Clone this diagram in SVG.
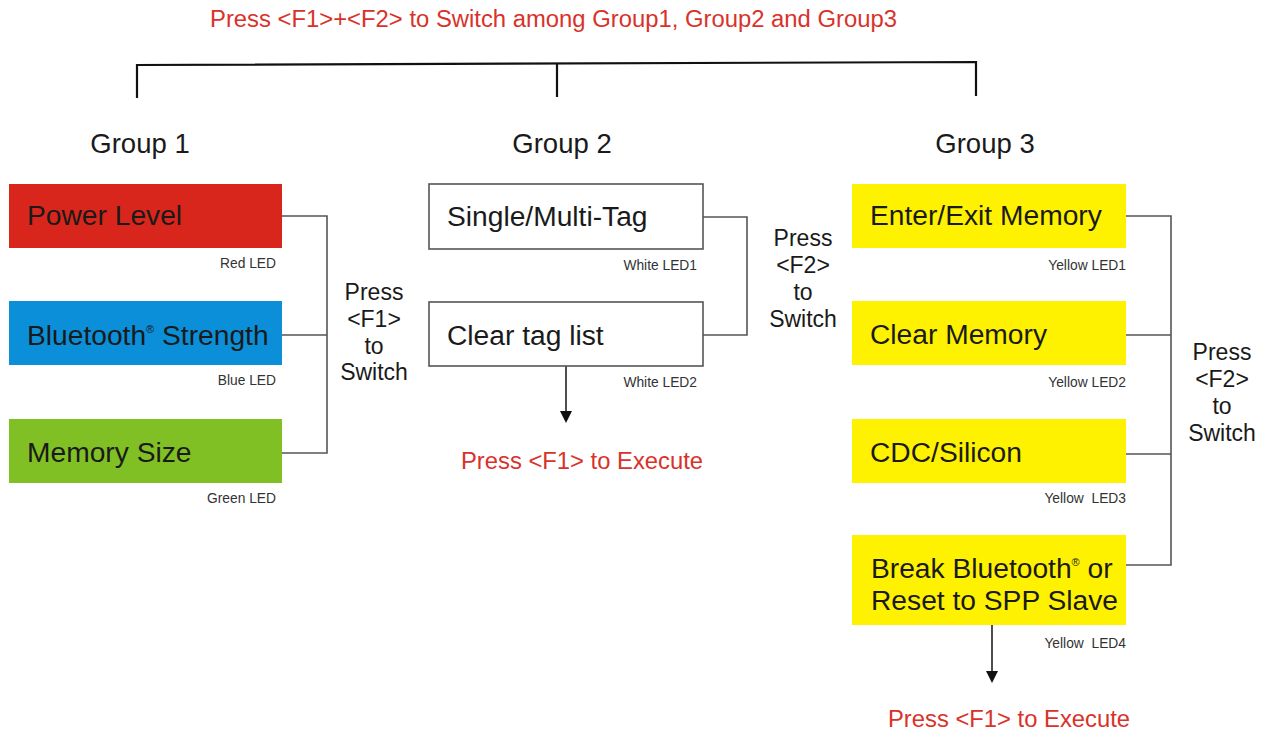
<svg xmlns="http://www.w3.org/2000/svg" width="1270" height="735" viewBox="0 0 1270 735">
<defs>
<style>
text{font-family:"Liberation Sans",Arial,sans-serif;fill:#1a1a1a}
.top{font-size:23.5px;fill:#d9322a}
.grp{font-size:27.5px}
.box{font-size:28.2px}
.led{font-size:13.8px;fill:#333;text-anchor:end;white-space:pre}
.sw{font-size:23px;text-anchor:middle}
.exe{font-size:23.8px;fill:#d9322a}
.conn{fill:none;stroke:#555;stroke-width:1.6}
.br{fill:none;stroke:#111;stroke-width:2.2}
.arr{fill:none;stroke:#222;stroke-width:1.6}
.wbox{fill:#fff;stroke:#555;stroke-width:1.6}
.ah{fill:#111}
</style>
</defs>
<rect width="1270" height="735" fill="#fff"/>

<text class="top" x="210" y="27" textLength="687" lengthAdjust="spacingAndGlyphs">Press &lt;F1&gt;+&lt;F2&gt; to Switch among Group1, Group2 and Group3</text>

<g id="connectors">
<path class="br" d="M137,98 V65 L976,62 V96"/>
<path class="br" d="M557,64 V97"/>
<path class="conn" d="M282,216 H327 V453 H282 M282,335 H327"/>
<path class="conn" d="M703,217 H747 V335 H703"/>
<path class="conn" d="M1126,216 H1171 V565 H1126 M1126,335 H1171 M1126,454 H1171"/>
<path class="arr" d="M566,366 V414"/>
<path class="ah" d="M560,411 L572,411 L566,423 Z"/>
<path class="arr" d="M992,625 V674"/>
<path class="ah" d="M986,671 L998,671 L992,683 Z"/>
</g>

<g id="group1-label"><text class="grp" x="140" y="153" text-anchor="middle">Group 1</text></g>
<g id="group2-label"><text class="grp" x="562" y="153" text-anchor="middle">Group 2</text></g>
<g id="group3-label"><text class="grp" x="985" y="153" text-anchor="middle">Group 3</text></g>

<g id="power-level">
<rect x="9" y="184" width="273" height="64" fill="#d9261c"/>
<text class="box" x="27" y="225">Power Level</text>
<text class="led" x="276" y="268">Red LED</text>
</g>
<g id="bluetooth-strength">
<rect x="9" y="301" width="273" height="64" fill="#0a8fd8"/>
<text class="box" x="27" y="345">Bluetooth<tspan font-size="11" dy="-12">®</tspan><tspan dy="12"> Strength</tspan></text>
<text class="led" x="276" y="385">Blue LED</text>
</g>
<g id="memory-size">
<rect x="9" y="419" width="273" height="64" fill="#80c024"/>
<text class="box" x="27" y="462">Memory Size</text>
<text class="led" x="276" y="503">Green LED</text>
</g>
<g id="switch-f1">
<text class="sw" x="374" y="300">Press</text>
<text class="sw" x="374" y="327">&lt;F1&gt;</text>
<text class="sw" x="374" y="354">to</text>
<text class="sw" x="374" y="380">Switch</text>
</g>

<g id="single-multi-tag">
<rect class="wbox" x="429" y="184" width="274" height="65"/>
<text class="box" x="447" y="226">Single/Multi-Tag</text>
<text class="led" x="697" y="270">White LED1</text>
</g>
<g id="clear-tag-list">
<rect class="wbox" x="429" y="302" width="274" height="64"/>
<text class="box" x="447" y="345">Clear tag list</text>
<text class="led" x="697" y="387">White LED2</text>
</g>
<g id="switch-f2-g2">
<text class="sw" x="803" y="246">Press</text>
<text class="sw" x="803" y="273">&lt;F2&gt;</text>
<text class="sw" x="803" y="300">to</text>
<text class="sw" x="803" y="327">Switch</text>
</g>
<g id="execute-g2"><text class="exe" x="461" y="469">Press &lt;F1&gt; to Execute</text></g>

<g id="enter-exit-memory">
<rect x="852" y="184" width="274" height="64" fill="#fff200"/>
<text class="box" x="870" y="225">Enter/Exit Memory</text>
<text class="led" x="1126" y="270">Yellow LED1</text>
</g>
<g id="clear-memory">
<rect x="852" y="301" width="274" height="64" fill="#fff200"/>
<text class="box" x="870" y="344">Clear Memory</text>
<text class="led" x="1126" y="387">Yellow LED2</text>
</g>
<g id="cdc-silicon">
<rect x="852" y="419" width="274" height="64" fill="#fff200"/>
<text class="box" x="870" y="462">CDC/Silicon</text>
<text class="led" x="1126" y="503">Yellow  LED3</text>
</g>
<g id="break-bluetooth">
<rect x="852" y="535" width="274" height="90" fill="#fff200"/>
<text class="box" x="871" y="578">Break Bluetooth<tspan font-size="11" dy="-12">®</tspan><tspan dy="12"> or</tspan></text>
<text class="box" x="871" y="610">Reset to SPP Slave</text>
<text class="led" x="1126" y="648">Yellow  LED4</text>
</g>
<g id="switch-f2-g3">
<text class="sw" x="1222" y="360">Press</text>
<text class="sw" x="1222" y="387">&lt;F2&gt;</text>
<text class="sw" x="1222" y="414">to</text>
<text class="sw" x="1222" y="441">Switch</text>
</g>
<g id="execute-g3"><text class="exe" x="888" y="727">Press &lt;F1&gt; to Execute</text></g>
</svg>
